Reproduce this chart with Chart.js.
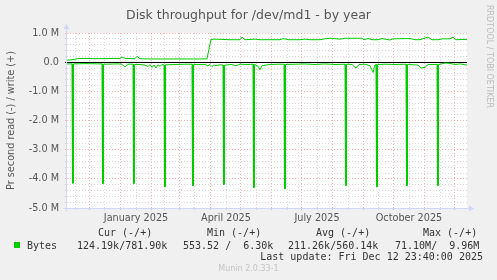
<!DOCTYPE html>
<html>
<head>
<meta charset="utf-8">
<title>Disk throughput for /dev/md1 - by year</title>
<script src="https://cdn.jsdelivr.net/npm/chart.js@4/dist/chart.umd.min.js"></script>
<style>
  html, body { margin: 0; padding: 0; background: #f0f0f0; }
  #wrap { position: relative; width: 497px; height: 280px; overflow: hidden; }
  #chart { position: absolute; left: 0; top: 0; }
  .t { position: absolute; white-space: pre; margin: 0; }
  #title { left: 0; width: 497px; top: 7px; text-align: center; font: 12.5px/15px "DejaVu Sans", sans-serif; color: #555; }
  .mono { font: 10px/12px "DejaVu Sans Mono", monospace; color: #333; }
  #brand { left: 484px; top: 5px; writing-mode: vertical-rl; font: 8px/10px "DejaVu Sans", sans-serif; color: #bbb; }
  #munin { left: 0; width: 497px; top: 264px; text-align: center; font: 8px/10px "DejaVu Sans", sans-serif; color: #c4c4c4; }
  #swatch { position: absolute; left: 14px; top: 242px; width: 6px; height: 6px; background: #00cc00; }
</style>
</head>
<body>
<div id="wrap">
  <canvas id="chart" width="497" height="280"></canvas>
  <div class="t" id="title">Disk throughput for /dev/md1 - by year</div>
  <div class="t" id="brand">RRDTOOL / TOBI OETIKER</div>

  <div class="t mono" style="left:98px;top:227px">Cur (-/+)</div>
  <div class="t mono" style="left:207px;top:227px">Min (-/+)</div>
  <div class="t mono" style="left:316px;top:227px">Avg (-/+)</div>
  <div class="t mono" style="left:423px;top:227px">Max (-/+)</div>

  <span id="swatch"></span>
  <div class="t mono" style="left:27px;top:240px">Bytes</div>
  <div class="t mono" style="left:77px;top:240px">124.19k/781.90k</div>
  <div class="t mono" style="left:183px;top:240px">553.52 /  6.30k</div>
  <div class="t mono" style="left:288px;top:240px">211.26k/560.14k</div>
  <div class="t mono" style="left:389px;top:240px"> 71.10M/  9.96M</div>

  <div class="t mono" style="right:14px;top:251px">Last update: Fri Dec 12 23:40:00 2025</div>
  <div class="t" id="munin">Munin 2.0.33-1</div>
</div>

<script>
// x = days since the left edge of the graph (7 Nov 2024), 400 days wide
// y = bytes per second in millions, read is negative, write positive

const writeDays = [0, 5, 11, 18, 28, 38, 48, 53, 55, 58, 68, 70, 73, 83, 93, 103, 113, 123, 133, 140,
  144, 148, 163, 173, 175, 178, 188, 191, 193, 203, 213, 215, 218, 221, 233, 238, 243, 253, 258, 263,
  273, 278, 288, 295, 297, 301, 305, 311, 315, 323, 326, 343, 348, 353, 361, 365, 371, 376, 383, 386,
  389, 398, 400];
const writeValues = [0.07, 0.08, 0.12, 0.13, 0.12, 0.12, 0.13, 0.12, 0.18, 0.13, 0.12, 0.2, 0.12, 0.11, 0.11, 0.11, 0.11, 0.11, 0.11, 0.12,
  0.78, 0.79, 0.77, 0.77, 0.86, 0.77, 0.79, 0.78, 0.77, 0.77, 0.77, 0.80, 0.80, 0.77, 0.77, 0.79, 0.77, 0.77, 0.80, 0.82,
  0.79, 0.82, 0.82, 0.82, 0.77, 0.81, 0.77, 0.77, 0.81, 0.76, 0.80, 0.81, 0.77, 0.77, 0.86, 0.77, 0.77, 0.80, 0.80, 0.86,
  0.77, 0.78, 0.77];

// the monthly read bursts are one sample wide, so each one has two points at its bottom
const readDays = [0, 5, 5.5, 5.5, 6.5, 6.5, 7, 18, 35, 35.5, 35.5, 36.5, 36.5, 37, 51, 55, 58, 61,
  66, 66.5, 66.5, 67.5, 67.5, 68, 73, 78, 81, 83, 85, 87, 89, 91, 93, 95,
  97, 97.5, 97.5, 98.5, 98.5, 99, 108, 118, 125, 125.5, 125.5, 126.5, 126.5, 127,
  138, 141, 143, 145, 147, 149, 153, 156, 156.5, 156.5, 157.5, 157.5, 158, 165, 169, 173, 181,
  186, 186.5, 186.5, 187.5, 187.5, 188, 191, 193, 195, 203, 211, 217, 217.5, 217.5, 218.5, 218.5, 219,
  228, 238, 248, 258, 268, 278, 278.5, 278.5, 279.5, 279.5, 280, 285, 289, 292, 298, 303, 306, 308,
  309, 309.5, 309.5, 310.5, 310.5, 311, 318, 328, 339, 339.5, 339.5, 340.5, 340.5, 341,
  351, 354, 358, 361, 370, 370.5, 370.5, 371.5, 371.5, 372, 378, 383, 388, 393, 400];
const readValues = [-0.06, -0.06, -0.06, -4.15, -4.15, -0.06, -0.06, -0.05, -0.06, -0.06, -4.16, -4.16, -0.07, -0.07, -0.06, -0.07, -0.17, -0.07,
  -0.07, -0.07, -4.16, -4.16, -0.08, -0.08, -0.08, -0.1, -0.15, -0.08, -0.18, -0.1, -0.2, -0.09, -0.14, -0.08,
  -0.1, -0.1, -4.27, -4.27, -0.09, -0.09, -0.08, -0.07, -0.07, -0.07, -4.23, -4.23, -0.08, -0.08,
  -0.08, -0.13, -0.08, -0.15, -0.09, -0.12, -0.09, -0.1, -0.1, -4.19, -4.19, -0.1, -0.1, -0.08, -0.12, -0.07, -0.08,
  -0.07, -0.07, -4.3, -4.3, -0.08, -0.08, -0.14, -0.26, -0.12, -0.08, -0.07, -0.07, -0.07, -4.34, -4.34, -0.08, -0.08,
  -0.07, -0.06, -0.08, -0.06, -0.08, -0.07, -0.07, -4.23, -4.23, -0.07, -0.07, -0.08, -0.2, -0.08, -0.07, -0.12, -0.35, -0.1,
  -0.08, -0.08, -4.27, -4.27, -0.08, -0.08, -0.07, -0.08, -0.07, -0.07, -4.23, -4.23, -0.08, -0.08,
  -0.1, -0.2, -0.18, -0.08, -0.08, -0.08, -4.23, -4.23, -0.08, -0.08, -0.03, -0.04, -0.08, -0.06, -0.1];

// month starts (red grid) and mid-month lines (grey grid), in days
const monthStartDays = [22, 53, 84, 112, 143, 173, 204, 234, 265, 296, 326, 357, 387];
const midMonthDays = [8, 37, 69, 97, 127, 159, 189, 220, 250, 281, 311, 342, 373];
const xLabelDays = [69, 159, 250, 342];
const xLabels = ['January 2025', 'April 2025', 'July 2025', 'October 2025'];

const yMajor = [1, 0, -1, -2, -3, -4, -5];
const yLabels = ['1.0 M', '0.0', '-1.0 M', '-2.0 M', '-3.0 M', '-4.0 M', '-5.0 M'];
const yMinorStep = 0.2;

const green = '#00cc00';
const axisColor = '#cfd6f8';
const majorGrid = 'rgba(230, 120, 120, 0.55)';
const minorGrid = 'rgba(170, 170, 170, 0.45)';

function points(xs, ys) {
  return xs.map((x, i) => ({ x: x, y: ys[i] }));
}

function yGridValues() {
  const out = [];
  for (let i = 0; i <= 30; i++) out.push(Math.round((-5 + i * yMinorStep) * 10) / 10);
  return out;
}

function isMajorY(v) { return yMajor.indexOf(v) !== -1; }

const canvasBg = {
  id: 'canvasBg',
  beforeDraw(chart) {
    const a = chart.chartArea, ctx = chart.ctx;
    ctx.save();
    ctx.fillStyle = '#ffffff';
    ctx.fillRect(a.left, a.top, a.right - a.left, a.bottom - a.top);
    ctx.restore();
  }
};

// rrdtool style axis arrows
const arrows = {
  id: 'arrows',
  afterDraw(chart) {
    const a = chart.chartArea, ctx = chart.ctx;
    const l = Math.round(a.left) - 0.5, b = Math.round(a.bottom) + 0.5;
    ctx.save();
    ctx.strokeStyle = axisColor;
    ctx.fillStyle = axisColor;
    ctx.lineWidth = 1;
    ctx.beginPath();
    ctx.moveTo(l, b + 3); ctx.lineTo(l, a.top - 4);
    ctx.moveTo(l - 3, b); ctx.lineTo(a.right + 3, b);
    ctx.stroke();
    ctx.beginPath();
    ctx.moveTo(l - 3, a.top - 4); ctx.lineTo(l + 3, a.top - 4); ctx.lineTo(l, a.top - 9); ctx.closePath();
    ctx.fill();
    ctx.beginPath();
    ctx.moveTo(a.right + 2, b - 3); ctx.lineTo(a.right + 2, b + 3); ctx.lineTo(a.right + 7, b); ctx.closePath();
    ctx.fill();
    ctx.restore();
  }
};

const tickFont = { family: 'DejaVu Sans', size: 9.7 };

new Chart(document.getElementById('chart'), {
  type: 'line',
  data: {
    datasets: [
      { label: 'read', data: points(readDays, readValues), borderColor: green, borderWidth: 1, pointRadius: 0, tension: 0, fill: false },
      { label: 'write', data: points(writeDays, writeValues), borderColor: green, borderWidth: 1, pointRadius: 0, tension: 0, fill: false }
    ]
  },
  options: {
    responsive: false,
    animation: false,
    devicePixelRatio: 1,
    layout: { padding: { left: 0, top: 33, right: 30, bottom: 0 } },
    plugins: { legend: { display: false }, tooltip: { enabled: false } },
    scales: {
      x: {
        type: 'linear',
        min: 0,
        max: 400,
        afterBuildTicks(s) {
          s.ticks = monthStartDays.concat(midMonthDays).sort((a, b) => a - b).map(v => ({ value: v }));
        },
        afterFit(s) { s.height = 72; },
        ticks: {
          autoSkip: false,
          maxRotation: 0,
          padding: 3,
          color: '#555',
          font: tickFont,
          callback(v) {
            const i = xLabelDays.indexOf(v);
            return i === -1 ? '' : xLabels[i];
          }
        },
        grid: {
          color: c => monthStartDays.indexOf(c.tick.value) !== -1 ? majorGrid : minorGrid,
          lineWidth: 1,
          drawTicks: true,
          tickLength: 2
        },
        border: { display: false, dash: [1, 2] }
      },
      y: {
        min: -5,
        max: 1,
        afterBuildTicks(s) {
          s.ticks = yGridValues().map(v => ({ value: v }));
        },
        afterFit(s) { s.width = 67; },
        ticks: {
          autoSkip: false,
          padding: 6,
          color: '#555',
          font: tickFont,
          callback(v) {
            const i = yMajor.indexOf(v);
            return i === -1 ? '' : yLabels[i];
          }
        },
        grid: {
          color: c => c.tick.value === 0 ? '#000000' : (isMajorY(c.tick.value) ? majorGrid : minorGrid),
          lineWidth: 1,
          drawTicks: true,
          tickLength: 2
        },
        border: { display: false, dash: c => (c.tick && c.tick.value === 0) ? [] : [1, 2] },
        title: {
          display: true,
          text: 'Pr second read (-) / write (+)',
          color: '#555',
          font: { family: 'DejaVu Sans', size: 9.7 },
          padding: { top: 6, bottom: 0 }
        }
      }
    }
  },
  plugins: [canvasBg, arrows]
});
</script>
</body>
</html>
